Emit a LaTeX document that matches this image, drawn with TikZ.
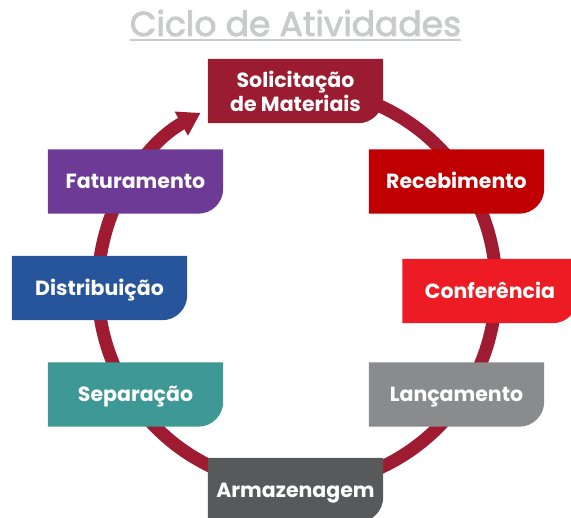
\documentclass[tikz,border=0pt]{standalone}
\usepackage{fontspec}
\setmainfont{Poppins}
\newfontfamily\titlefam[FakeBold=2.5]{Poppins}
\usetikzlibrary{arrows.meta,backgrounds}

\definecolor{titlecol}{HTML}{C9CACC}
\definecolor{ringcol}{HTML}{9E1B32}
\definecolor{solcol}{HTML}{9B1B30}
\definecolor{reccol}{HTML}{C00000}
\definecolor{concol}{HTML}{ED1C24}
\definecolor{lancol}{HTML}{8A8B8D}
\definecolor{armcol}{HTML}{58595B}
\definecolor{sepcol}{HTML}{3E9896}
\definecolor{discol}{HTML}{27559B}
\definecolor{fatcol}{HTML}{6D3A96}

\newcommand{\titlefont}{\titlefam\fontsize{34.5}{40}\selectfont}
\newcommand{\actfont}{\fontsize{20.5}{24}\selectfont\bfseries}

\begin{document}
\begin{tikzpicture}[x=1pt, y=1pt]
\tikzset{
    actbox/.style={minimum width=175pt, minimum height=64pt, inner sep=0pt, text=white, font=\actfont, align=center},
    oneline/.style={text height=14.5pt, text depth=0pt},
    ring/.style={draw=ringcol, line width=13pt, -{Triangle[width=26pt, length=22pt]}}
}
  \useasboundingbox (0,0) rectangle (571,518);

  \node[font=\titlefont, text=titlecol, inner sep=0pt, anchor=base] (title) at (295.5,482) {Ciclo de Atividades};
  \draw[titlecol, line width=1.5pt] ([yshift=-4pt]title.base west) -- ([yshift=-4pt]title.base east);

  \node[actbox] (sol) at (295.5,427) {Solicitação\\de Materiais};
  \node[actbox, oneline] (rec) at (456.5,336.5) {Recebimento};
  \node[actbox, oneline] (con) at (490,227) {Conferência};
  \node[actbox, oneline] (lan) at (456.5,123.5) {Lançamento};
  \node[actbox, oneline] (arm) at (295.5,28) {Armazenagem};
  \node[actbox, oneline] (sep) at (135.5,123.5) {Separação};
  \node[actbox, oneline] (dis) at (99.5,230) {Distribuição};
  \node[actbox, oneline] (fat) at (135.5,336.5) {Faturamento};
  \coordinate (hub) at (297,231);

  \begin{scope}[on background layer]
    \draw[ring] ([shift={(80:199pt)}]hub) arc[start angle=80, end angle=-241, radius=199pt];
    \foreach \n/\c in {sol/solcol, rec/reccol, con/concol, lan/lancol, arm/armcol, sep/sepcol, dis/discol, fat/fatcol}
      \fill[\c] (\n.north west) -- (\n.north east) -- ([yshift=25pt]\n.south east)
        arc[start angle=0, end angle=-90, radius=25pt] -- (\n.south west) -- cycle;
  \end{scope}
\end{tikzpicture}
\end{document}
